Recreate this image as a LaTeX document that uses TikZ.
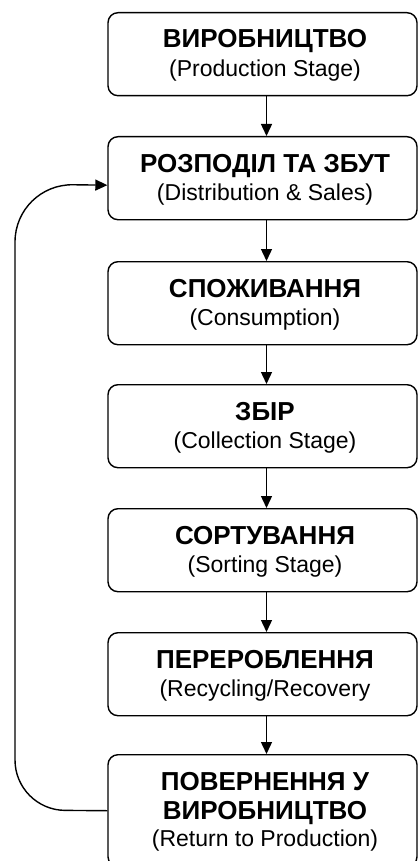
\documentclass[tikz,border=0pt]{standalone}
\usepackage{fontspec}
\setmainfont{Liberation Sans}
\usetikzlibrary{arrows.meta,calc}
\begin{document}
\begin{tikzpicture}[x=1pt,y=-1pt,
  box/.style={draw, line width=1.4pt, rounded corners=10pt, minimum width=309pt,
    minimum height=83pt, inner sep=0pt, anchor=north},
  ttl/.style={font=\fontsize{26}{30}\selectfont\bfseries, anchor=base, inner sep=0pt},
  sub/.style={font=\fontsize{23}{26}\selectfont, anchor=base, inner sep=0pt},
  arr/.style={line width=1.4pt, -{Triangle[length=12pt,width=11pt]}},
  ]
\useasboundingbox (0,0) rectangle (418,861);
\begin{scope}
\clip (0,0) rectangle (418,861);
\newcommand{\stagebox}[4]{%
  \node[box] (#1) at (262.5,#2) {};
  \node[ttl] (#1t) at ($(#1.north)+(2.5,36)$) {#3};
  \node[sub] (#1s) at ($(#1.north)+(2.5,64.5)$) {#4};}
\stagebox{b1}{12}{ВИРОБНИЦТВО}{(Production Stage)}
\stagebox{b2}{136}{РОЗПОДІЛ ТА ЗБУТ}{(Distribution \& Sales)}
\stagebox{b3}{261}{СПОЖИВАННЯ}{(Consumption)}
\stagebox{b4}{384}{ЗБІР}{(Collection Stage)}
\stagebox{b5}{508}{СОРТУВАННЯ}{(Sorting Stage)}
\stagebox{b6}{632}{ПЕРЕРОБЛЕННЯ}{(Recycling/Recovery}
\node[box, minimum height=112pt] (b7) at (262.5,754) {};
\node[ttl] (b7t) at ($(b7.north)+(2.5,36)$) {ПОВЕРНЕННЯ У};
\node[ttl] (b7u) at ($(b7.north)+(2.5,65)$) {ВИРОБНИЦТВО};
\node[sub] (b7s) at ($(b7.north)+(2.5,92)$) {(Return to Production)};
\foreach \a/\b in {b1/b2,b2/b3,b3/b4,b4/b5,b5/b6,b6/b7}
  \draw[arr] ([xshift=4pt]\a.south) -- ([xshift=4pt]\b.north);
\coordinate (lb) at (15,810);
\coordinate (lt) at (15,184);
\draw[arr] (b7.west) [rounded corners=50pt] -- (lb) [rounded corners=58pt] -- (lt) [sharp corners] -- ([yshift=-7pt]b2.west);
\end{scope}
\end{tikzpicture}
\end{document}
